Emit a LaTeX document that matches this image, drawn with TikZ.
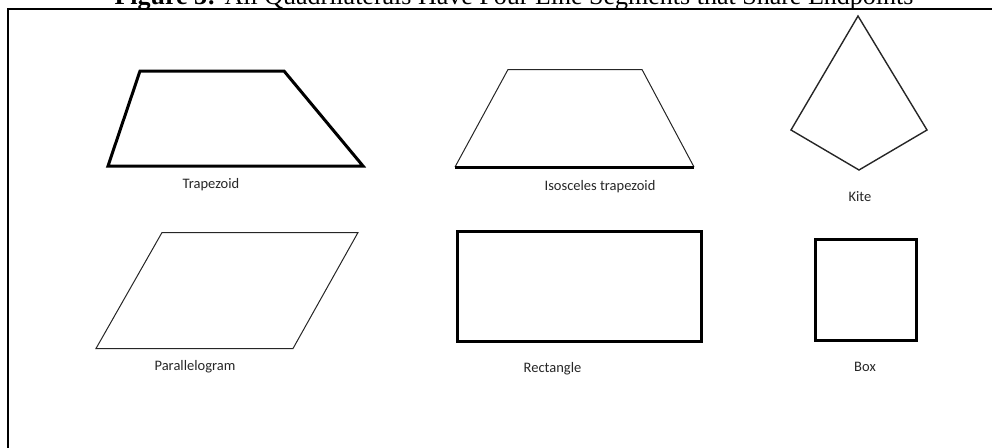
\documentclass[tikz,border=0pt]{standalone}
\usepackage{fontspec}
\setmainfont{Liberation Serif}
\newfontfamily\lblfont{Carlito}
\usetikzlibrary{positioning}

\begin{document}
\begin{tikzpicture}[
  x=1pt, y=-1pt,
  heavy/.style={draw=black, line width=3pt, line join=miter},
  light/.style={draw=black!85, line width=1pt},
  lbl/.style={font=\lblfont\fontsize{14.5}{17}\selectfont, text=black!85, inner sep=0pt},
  frame/.style={draw=black, line width=2pt}
]
\useasboundingbox (0,0) rectangle (992,447);

%% ---------- Title and frame (cut at the top edge) ----------
\node[font=\fontsize{26}{30}\selectfont, anchor=base, inner sep=0pt] (title) at (514,5)
  {\textbf{Figure 3:} All Quadrilaterals Have Four Line Segments that Share Endpoints};
\draw[frame] (7.5,460) -- (7.5,8.5) -- (992,8.5);

%% ---------- Row 1 ----------
% trapezoid
\draw[heavy] (140,71) -- (284,71) -- (363,166) -- (108,166) -- cycle;
\node[lbl] (trap) at (211,185) {Trapezoid};

% isosceles trapezoid: heavy base, light top and legs
\draw[light] (455,167) -- (508,69.5) -- (642,69.5) -- (694,167);
\draw[heavy] (455,167) -- (694,167);
\node[lbl] (isotrap) at (600,186.5) {Isosceles trapezoid};

% kite
\draw[light, line width=1.4pt] (858,16) -- (927,130) -- (859,170) -- (791,130) -- cycle;
\node[lbl] (kite) at (860,197) {Kite};

%% ---------- Row 2 ----------
% parallelogram
\draw[light] (162,232.5) -- (358,232.5) -- (293,348.5) -- (96,348.5) -- cycle;
\node[lbl] (para) at (195,367) {Parallelogram};

% rectangle
\draw[heavy] (457,231) rectangle (701,341);
\node[lbl] (rect) at (552.5,368.5) {Rectangle};

% box
\draw[heavy] (815,239.5) rectangle (916,340);
\node[lbl] (box) at (865,367) {Box};

\end{tikzpicture}
\end{document}
